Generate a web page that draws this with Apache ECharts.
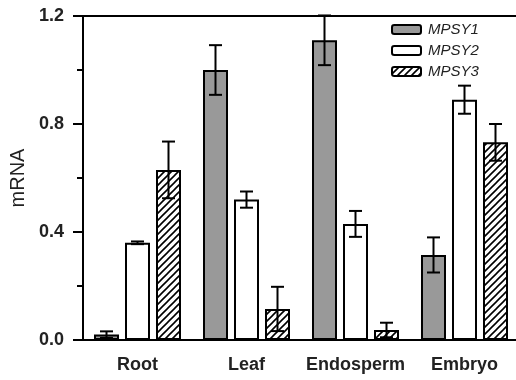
<!DOCTYPE html>
<html>
<head>
<meta charset="utf-8">
<script src="https://cdn.jsdelivr.net/npm/echarts@6/dist/echarts.min.js"></script>
<style>html,body{margin:0;padding:0;background:#fff;}#c{width:516px;height:380px;}</style>
</head>
<body>
<div id="c"></div>
<script>
var categories = ['Root', 'Leaf', 'Endosperm', 'Embryo'];
var seriesNames = ['MPSY1', 'MPSY2', 'MPSY3'];
var mpsy1 = [0.02, 1.00, 1.11, 0.315];
var mpsy2 = [0.36, 0.52, 0.43, 0.89];
var mpsy3 = [0.63, 0.115, 0.037, 0.732];
var err1 = [0.012, 0.092, 0.092, 0.065];
var err2 = [0.005, 0.03, 0.048, 0.052];
var err3 = [0.105, 0.082, 0.027, 0.068];
var yTicks = [0, 0.4, 0.8, 1.2];

var BAR_W = 25, BORDER = 2, GAP_PX = 6;

function hatch() {
  var s = 7;
  var c = document.createElement('canvas');
  c.width = s; c.height = s;
  var g = c.getContext('2d');
  g.fillStyle = '#fff'; g.fillRect(0, 0, s, s);
  g.strokeStyle = '#000'; g.lineWidth = 1.6;
  g.beginPath();
  g.moveTo(-1, s + 1); g.lineTo(s + 1, -1);
  g.moveTo(-1, 1); g.lineTo(1, -1);
  g.moveTo(s - 1, s + 1); g.lineTo(s + 1, s - 1);
  g.stroke();
  return c;
}

var fills = ['#999999', '#ffffff', { image: hatch(), repeat: 'repeat' }];
var values = [mpsy1, mpsy2, mpsy3];
var errs = [err1, err2, err3];

var series = [];
seriesNames.forEach(function (n, k) {
  series.push({
    name: n, type: 'bar', data: values[k], barWidth: BAR_W, barGap: (GAP_PX / BAR_W * 100) + '%',
    itemStyle: { color: fills[k], borderColor: '#000', borderWidth: BORDER },
    z: 2
  });
});
seriesNames.forEach(function (n, k) {
  var d = values[k].map(function (v, i) { return [i, v, errs[k][i]]; });
  series.push({
    type: 'custom', data: d, z: 5, silent: true,
    renderItem: function (params, api) {
      var i = api.value(0), v = api.value(1), e = api.value(2);
      var off = (k - 1) * (BAR_W + GAP_PX);
      var top = api.coord([i, v + e]);
      var bot = api.coord([i, v - e]);
      var x = top[0] + off;
      var cap = 6.5;
      var st = { stroke: '#000', lineWidth: 2 };
      return { type: 'group', children: [
        { type: 'line', shape: { x1: x, y1: top[1], x2: x, y2: bot[1] }, style: st },
        { type: 'line', shape: { x1: x - cap, y1: top[1], x2: x + cap, y2: top[1] }, style: st },
        { type: 'line', shape: { x1: x - cap, y1: bot[1], x2: x + cap, y2: bot[1] }, style: st }
      ]};
    }
  });
});

var chart = echarts.init(document.getElementById('c'), null, { renderer: 'canvas' });
chart.setOption({
  animation: false,
  backgroundColor: '#fff',
  grid: { left: 83, top: 16, bottom: 40, width: 436, containLabel: false, outerBoundsMode: 'none' },
  legend: {
    data: seriesNames, orient: 'vertical', left: 391, top: 22, padding: 0,
    itemWidth: 29, itemHeight: 9, itemGap: 6,
    textStyle: { fontStyle: 'italic', fontSize: 15, color: '#222', fontFamily: 'Liberation Sans', padding: [0, 0, 0, 2] },
    itemStyle: { borderColor: '#000', borderWidth: 2 }
  },
  xAxis: [{
    type: 'category', data: categories,
    axisLine: { lineStyle: { color: '#000', width: 2 } },
    axisTick: { alignWithLabel: true, length: 10, lineStyle: { color: '#000', width: 2 } },
    axisLabel: { interval: 0, fontWeight: 'bold', fontSize: 18, color: '#222', margin: 16, fontFamily: 'Liberation Sans' }
  }, {
    type: 'category', data: categories, position: 'top',
    axisLine: { lineStyle: { color: '#000', width: 2 } },
    axisTick: { show: false }, axisLabel: { show: false }
  }],
  yAxis: {
    type: 'value', min: 0, max: 1.2, interval: 0.4,
    name: 'mRNA', nameLocation: 'middle', nameGap: 49, nameRotate: 90,
    nameTextStyle: { fontSize: 20, color: '#222', fontFamily: 'Liberation Sans' },
    axisLine: { show: true, lineStyle: { color: '#000', width: 2 } },
    axisTick: { show: true, length: 10, lineStyle: { color: '#000', width: 2 } },
    minorTick: { show: true, splitNumber: 2, length: 6, lineStyle: { color: '#000', width: 2 } },
    splitLine: { show: false },
    axisLabel: { fontWeight: 'bold', fontSize: 18, color: '#222', margin: 19, fontFamily: 'Liberation Sans',
      formatter: function (v) { return yTicks.indexOf(Math.round(v * 10) / 10) >= 0 ? v.toFixed(1) : ''; } }
  },
  series: series
});
</script>
</body>
</html>
